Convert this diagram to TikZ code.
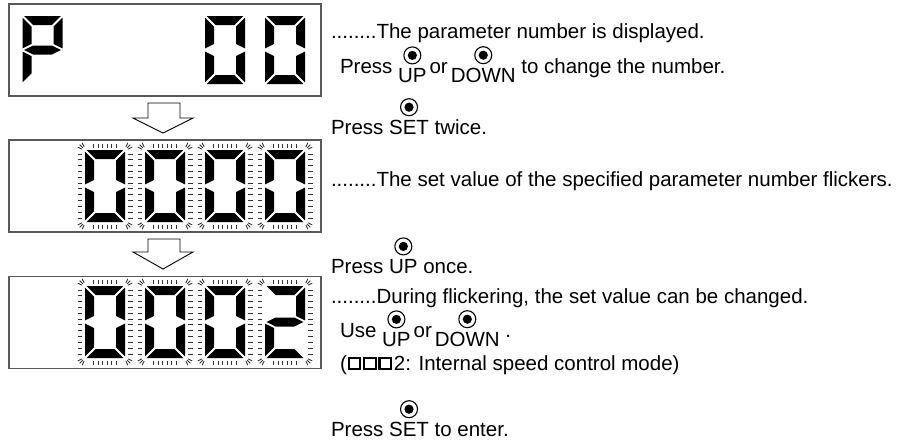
\documentclass[tikz,border=0pt]{standalone}
\usepackage{fontspec}
\setmainfont{Liberation Sans}
\usetikzlibrary{calc}
\def\dgW{40}\def\dgT{9}\def\dgG{1.6}\def\dgH{70}
\newcommand\sega{\fill (\dgG,0) -- (\dgW-\dgG,0) -- (\dgW-\dgT-\dgG,\dgT) -- (\dgT+\dgG,\dgT) -- cycle;}
\newcommand\segd{\fill (\dgG,\dgH) -- (\dgW-\dgG,\dgH) -- (\dgW-\dgT-\dgG,\dgH-\dgT) -- (\dgT+\dgG,\dgH-\dgT) -- cycle;}
\newcommand\segf{\fill (0,\dgG) -- (\dgT,\dgT+\dgG) -- (\dgT,\dgH/2-\dgT/2-\dgG) -- (0,\dgH/2-\dgG) -- cycle;}
\newcommand\sege{\fill (0,\dgH/2+\dgG) -- (\dgT,\dgH/2+\dgT/2+\dgG) -- (\dgT,\dgH-\dgT-\dgG) -- (0,\dgH-\dgG) -- cycle;}
\newcommand\segb{\fill (\dgW,\dgG) -- (\dgW-\dgT,\dgT+\dgG) -- (\dgW-\dgT,\dgH/2-\dgT/2-\dgG) -- (\dgW,\dgH/2-\dgG) -- cycle;}
\newcommand\segc{\fill (\dgW,\dgH/2+\dgG) -- (\dgW-\dgT,\dgH/2+\dgT/2+\dgG) -- (\dgW-\dgT,\dgH-\dgT-\dgG) -- (\dgW,\dgH-\dgG) -- cycle;}
\newcommand\segg{\fill (\dgG,\dgH/2) -- (\dgT+\dgG,\dgH/2-\dgT/2) -- (\dgW-\dgT-\dgG,\dgH/2-\dgT/2) -- (\dgW-\dgG,\dgH/2) -- (\dgW-\dgT-\dgG,\dgH/2+\dgT/2) -- (\dgT+\dgG,\dgH/2+\dgT/2) -- cycle;}
\newcommand\digit[4]{%
  \begin{scope}[shift={(#1,#2)}]
    \def\dgH{#3}
    \foreach \s in {#4}{\csname seg\s\endcsname}
  \end{scope}}
\newcommand\flick[3]{%
  \begin{scope}[shift={(#1,#2)}]
    \def\dgH{#3}
    \foreach \k in {0,...,5}{
      \pgfmathsetmacro\xx{8.75+4.5*\k}
      \draw[flk] (\xx,-6.5) -- (\xx,-2.5);
      \draw[flk] (\xx,\dgH+2.5) -- (\xx,\dgH+6.5);}
    \foreach \k in {0,...,11}{
      \pgfmathsetmacro\yy{4+\k*(\dgH-8)/11}
      \draw[flk] (-7.5,\yy) -- (-3,\yy);
      \draw[flk] (\dgW+3,\yy) -- (\dgW+7.5,\yy);}
    \foreach \cx/\cy/\aa in {1/1/205, 39/1/295, 39/\dgH-1/25, 1/\dgH-1/115}{
      \foreach \k in {0,20,40}{
        \draw[flk] ($(\cx,\cy)+(\aa+\k:4.5)$) -- ($(\cx,\cy)+(\aa+\k:9)$);}}
  \end{scope}}
\begin{document}
\begin{tikzpicture}[x=1pt,y=-1pt,
  txt/.style={font=\fontsize{20.5pt}{24pt}\selectfont, inner sep=0pt, outer sep=0pt, anchor=base west},
  box/.style={draw=black!65, line width=1.4pt, inner sep=0pt, outer sep=0pt, minimum width=312pt, minimum height=92pt, anchor=north west},
  btn/.style={circle, draw, line width=1.1pt, minimum size=17pt, inner sep=0pt, path picture={\fill (path picture bounding box.center) circle (4.6pt);}},
  flk/.style={line width=0.9pt, black!80},
  blockarrow/.style={draw=black, line width=0.9pt, fill=white, line join=miter},
  sq/.style={draw, line width=2.2pt, minimum width=11.5pt, minimum height=10.5pt, inner sep=0pt, outer sep=0pt, anchor=south west}]
\useasboundingbox (0,0) rectangle (913,445);

% displays
\node[box] (disp1) at (9,4) {};
\node[box] (disp2) at (9,140) {};
\node[box] (disp3) at (9,276.5) {};

\digit{22.5}{16}{68}{a,b,f,g,e}
\digit{205}{16}{68}{a,b,c,d,e,f}
\digit{265}{16}{68}{a,b,c,d,e,f}

\foreach \x in {85,145,205,265}{\flick{\x}{150}{72}}
\foreach \x in {85,145,205,265}{\digit{\x}{150}{72}{a,b,c,d,e,f}}

\foreach \x in {85,145,205,265}{\flick{\x}{286}{72}}
\foreach \x in {85,145,205}{\digit{\x}{286}{72}{a,b,c,d,e,f}}
\digit{265}{286}{72}{a,b,g,e,d}

% block arrows
\draw[blockarrow] (148,103) -- (180,103) -- (180,118) -- (193,118) -- (163,133) -- (133,118) -- (148,118) -- cycle;
\draw[blockarrow] (148,239) -- (180,239) -- (180,252) -- (193,252) -- (163,269) -- (133,252) -- (148,252) -- cycle;

% line 1
\node[txt] (d1) at (331,38) {........};
\node[txt] (t1) at (d1.base east) {The parameter number is displayed.};
% line 2
\node[txt] (p2) at (340,73) {Press};
\node[txt] (up2) at ([xshift=5.7pt,yshift=-9pt]p2.base east) {UP};
\node[txt] (or2) at ([xshift=3pt,yshift=9pt]up2.base east) {or};
\node[txt] (dn2) at ([xshift=3pt,yshift=-9pt]or2.base east) {DOWN};
\node[txt] (r2) at ([xshift=5.7pt,yshift=9pt]dn2.base east) {to change the number.};
\node[btn] (cup2) at ($(up2.north)+(0,-12.5)$) {};
\node[btn] (cdn2) at ($(dn2.north)+(0,-12.5)$) {};
% line 3
\node[txt] (p3) at (331,134) {Press};
\node[txt] (set3) at ([xshift=5.7pt]p3.base east) {SET};
\node[txt] (r3) at ([xshift=5.7pt]set3.base east) {twice.};
\node[btn] (cset3) at ($(set3.north)+(0,-12.5)$) {};
% line 4
\node[txt] (d4) at (331,186) {........};
\node[txt] (t4) at (d4.base east) {The set value of the specified parameter number flickers.};
% line 5
\node[txt] (p5) at (331,273) {Press};
\node[txt] (up5) at ([xshift=5.7pt]p5.base east) {UP};
\node[txt] (r5) at ([xshift=5.7pt]up5.base east) {once.};
\node[btn] (cup5) at ($(up5.north)+(0,-12.5)$) {};
% line 6
\node[txt] (d6) at (331,303) {........};
\node[txt] (t6) at (d6.base east) {During flickering, the set value can be changed.};
% line 7
\node[txt] (p7) at (340,337) {Use};
\node[txt] (up7) at ([xshift=5.7pt,yshift=-9pt]p7.base east) {UP};
\node[txt] (or7) at ([xshift=3pt,yshift=9pt]up7.base east) {or};
\node[txt] (dn7) at ([xshift=3pt,yshift=-9pt]or7.base east) {DOWN};
\node[txt] (r7) at ([xshift=5.7pt,yshift=9pt]dn7.base east) {.};
\node[btn] (cup7) at ($(up7.north)+(0,-12.5)$) {};
\node[btn] (cdn7) at ($(dn7.north)+(0,-12.5)$) {};
% line 8
\node[txt] (lp8) at (340,370) {(};
\node[sq] (sq1) at ([xshift=2pt,yshift=1.3pt]lp8.base east) {};
\node[sq] (sq2) at ([xshift=3.8pt]sq1.south east) {};
\node[sq] (sq3) at ([xshift=3.8pt]sq2.south east) {};
\node[txt] (t8) at ([xshift=3pt,yshift=-1.3pt]sq3.south east) {2: Internal speed control mode)};
% line 9
\node[txt] (p9) at (331,436) {Press};
\node[txt] (set9) at ([xshift=5.7pt]p9.base east) {SET};
\node[txt] (r9) at ([xshift=5.7pt]set9.base east) {to enter.};
\node[btn] (cset9) at ($(set9.north)+(0,-12.5)$) {};
\end{tikzpicture}
\end{document}
